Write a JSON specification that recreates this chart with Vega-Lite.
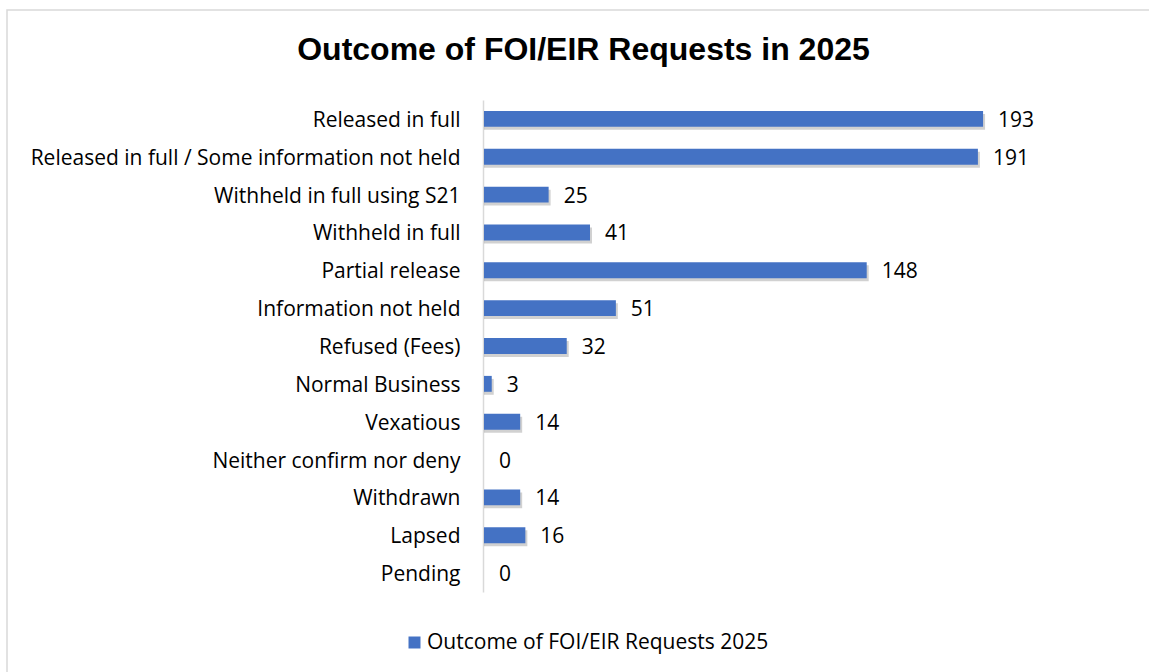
{
  "$schema": "https://vega.github.io/schema/vega-lite/v6.json",
  "autosize": {"type": "none"},
  "padding": {"left": 7, "top": 10, "right": -1, "bottom": -1},
  "width": 1143,
  "height": 663,
  "background": "white",
  "config": {"view": {"stroke": "#d9d9d9", "strokeWidth": 1.5}},
  "title": {
    "text": "Outcome of FOI/EIR Requests in 2025",
    "font": "Liberation Sans",
    "fontSize": 32,
    "fontWeight": "bold",
    "color": "#000000",
    "anchor": "middle",
    "frame": "group",
    "orient": "top",
    "offset": 0,
    "baseline": "alphabetic",
    "dx": 5,
    "dy": 82
  },
  "data": {
    "values": [
      {"outcome": "Released in full", "count": 193},
      {"outcome": "Released in full / Some information not held", "count": 191},
      {"outcome": "Withheld in full using S21", "count": 25},
      {"outcome": "Withheld in full", "count": 41},
      {"outcome": "Partial release", "count": 148},
      {"outcome": "Information not held", "count": 51},
      {"outcome": "Refused (Fees)", "count": 32},
      {"outcome": "Normal Business", "count": 3},
      {"outcome": "Vexatious", "count": 14},
      {"outcome": "Neither confirm nor deny", "count": 0},
      {"outcome": "Withdrawn", "count": 14},
      {"outcome": "Lapsed", "count": 16},
      {"outcome": "Pending", "count": 0}
    ]
  },
  "encoding": {
    "y": {
      "field": "outcome",
      "type": "nominal",
      "sort": ["Released in full", "Released in full / Some information not held", "Withheld in full using S21", "Withheld in full", "Partial release", "Information not held", "Refused (Fees)", "Normal Business", "Vexatious", "Neither confirm nor deny", "Withdrawn", "Lapsed", "Pending"],
      "scale": {"range": [90, 582], "paddingInner": 0.58, "paddingOuter": 0.29},
      "axis": {
        "title": null,
        "orient": "left",
        "offset": -476,
        "domainColor": "#d9d9d9",
        "domainWidth": 1.5,
        "ticks": false,
        "labelPadding": 23,
        "labelOffset": 2,
        "labelFont": "Open Sans",
        "labelFontSize": 21,
        "labelColor": "#000000",
        "labelLimit": 600
      }
    },
    "x": {
      "field": "count",
      "type": "quantitative",
      "scale": {"domain": [-184.45, 257.55], "nice": false, "zero": false},
      "axis": null
    }
  },
  "layer": [
    {
      "transform": [{"filter": "datum.count > 0"}],
      "mark": {"type": "bar", "color": "#000000", "opacity": 0.18, "xOffset": 2, "yOffset": 3},
      "encoding": {"x2": {"datum": 0}}
    },
    {
      "mark": {"type": "bar"},
      "encoding": {
        "x2": {"datum": 0},
        "color": {
          "datum": "Outcome of FOI/EIR Requests 2025",
          "type": "nominal",
          "scale": {"range": ["#4472C4"]},
          "legend": {
            "title": null,
            "orient": "none",
            "legendX": 397,
            "legendY": 622,
            "padding": 0,
            "symbolType": "square",
            "symbolSize": 144,
            "symbolStrokeWidth": 0,
            "labelOffset": 2,
            "labelFont": "Open Sans",
            "labelFontSize": 21,
            "labelColor": "#000000",
            "labelLimit": 600
          }
        }
      }
    },
    {
      "mark": {"type": "text", "align": "left", "baseline": "middle", "dx": 15, "dy": 2, "font": "Open Sans", "fontSize": 21, "color": "#000000"},
      "encoding": {"text": {"field": "count", "type": "quantitative"}}
    }
  ]
}
